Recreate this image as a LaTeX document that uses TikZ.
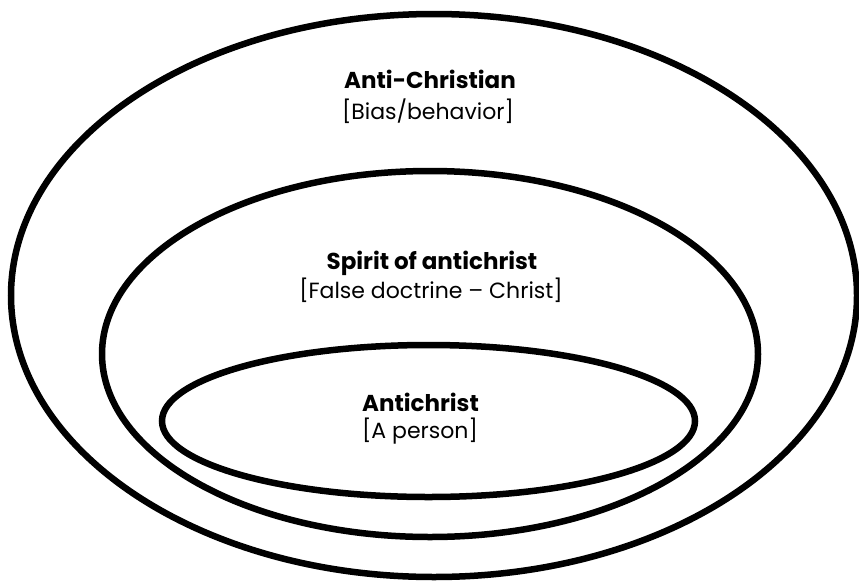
\documentclass[tikz,border=0pt]{standalone}
\usepackage{fontspec}
\setmainfont{Poppins}
\begin{document}
\begin{tikzpicture}[x=1pt,y=-1pt,
  ring/.style={draw=black,line width=6.5pt},
  title/.style={anchor=base,inner sep=0pt,font=\fontsize{23}{26}\selectfont\bfseries},
  sub/.style={anchor=base,inner sep=0pt,font=\fontsize{22}{25}\selectfont}]
\useasboundingbox[fill=white] (0,0) rectangle (859,581);
\draw[ring] (434,295.5) ellipse [x radius=423,y radius=281.5];
\draw[ring] (430,354) ellipse [x radius=328,y radius=183];
\draw[ring] (428.5,421) ellipse [x radius=266.5,y radius=76];
\node[title] (t1) at (430,88) {Anti-Christian};
\node[sub] (s1) at (428,119) {[Bias/behavior]};
\node[title] (t2) at (432,269) {Spirit of antichrist};
\node[sub] (s2) at (431,298) {[False doctrine – Christ]};
\node[title] (t3) at (420.5,411) {Antichrist};
\node[sub] (s3) at (420,438) {[A person]};
\end{tikzpicture}
\end{document}
